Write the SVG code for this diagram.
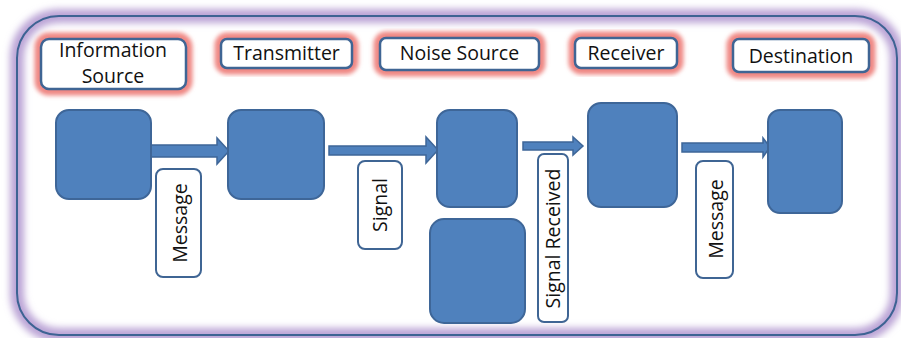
<svg xmlns="http://www.w3.org/2000/svg" width="901" height="338" viewBox="0 0 901 338">
  <defs>
    <filter id="soft" x="-20%" y="-30%" width="140%" height="160%">
      <feGaussianBlur stdDeviation="2.3"/>
    </filter>
    <filter id="softWide" x="-10%" y="-10%" width="120%" height="120%">
      <feGaussianBlur stdDeviation="3.5"/>
    </filter>
  </defs>
  <style>
    .title { fill: #ffffff; stroke: #3f6594; stroke-width: 2.5; }
    .titleGlow { fill: none; stroke: #ef8783; stroke-width: 13; }
    .node { fill: #4f81bd; stroke: #3e6698; stroke-width: 2; }
    .tag { fill: #ffffff; stroke: #3f6594; stroke-width: 2; }
    .arrow { fill: #4f81bd; stroke: #3e6698; stroke-width: 1.5; stroke-linejoin: miter; }
    text { font-family: "Open Sans", "Liberation Sans", sans-serif; font-size: 19.5px; fill: #111111; text-anchor: middle; }
  </style>

  <!-- white page with framed panel -->
  <rect x="0" y="0" width="901" height="338" fill="#ffffff"/>
  <rect x="17" y="16" width="880" height="319" rx="42" fill="none" stroke="#bba4d6" stroke-width="14" filter="url(#softWide)"/>
  <rect x="17" y="16" width="880" height="319" rx="42" fill="none" stroke="#3d6393" stroke-width="2"/>

  <!-- stage titles -->
  <g id="title-information-source">
    <rect class="titleGlow" x="41" y="39" width="145" height="50" rx="8" filter="url(#soft)"/>
    <rect class="title" x="41" y="39" width="145" height="50" rx="8"/>
    <text x="113" y="57">Information</text>
    <text x="113" y="83">Source</text>
  </g>
  <g id="title-transmitter">
    <rect class="titleGlow" x="221" y="39" width="131" height="29" rx="6" filter="url(#soft)"/>
    <rect class="title" x="221" y="39" width="131" height="29" rx="6"/>
    <text x="286.5" y="60">Transmitter</text>
  </g>
  <g id="title-noise-source">
    <rect class="titleGlow" x="380" y="38" width="159" height="32" rx="6" filter="url(#soft)"/>
    <rect class="title" x="380" y="38" width="159" height="32" rx="6"/>
    <text x="459.5" y="60">Noise Source</text>
  </g>
  <g id="title-receiver">
    <rect class="titleGlow" x="575" y="38" width="102" height="30" rx="6" filter="url(#soft)"/>
    <rect class="title" x="575" y="38" width="102" height="30" rx="6"/>
    <text x="626" y="60">Receiver</text>
  </g>
  <g id="title-destination">
    <rect class="titleGlow" x="733" y="39" width="136" height="33" rx="6" filter="url(#soft)"/>
    <rect class="title" x="733" y="39" width="136" height="33" rx="6"/>
    <text x="801" y="63">Destination</text>
  </g>

  <!-- connectors: block arrows between the stages -->
  <g id="connectors">
    <polygon class="arrow" points="142,145 217,145 217,138 229,151 217,164 217,157 142,157"/>
    <polygon class="arrow" points="329,146 426,146 426,137 438,150 426,163 426,155 329,155"/>
    <polygon class="arrow" points="523,142 573,142 573,137 583,146 573,155 573,150 523,150"/>
    <polygon class="arrow" points="682,143 763,143 763,138 770,147 763,157 763,152 682,152"/>
  </g>

  <!-- stage blocks -->
  <g id="node-information-source">
    <rect class="node" x="56" y="110" width="95" height="89" rx="13"/>
  </g>
  <g id="node-transmitter">
    <rect class="node" x="228" y="110" width="96" height="89" rx="13"/>
  </g>
  <g id="node-channel">
    <rect class="node" x="437" y="110" width="80" height="97" rx="13"/>
  </g>
  <g id="node-noise-source">
    <rect class="node" x="430" y="219" width="95" height="104" rx="14"/>
  </g>
  <g id="node-receiver">
    <rect class="node" x="588" y="103" width="89" height="104" rx="13"/>
  </g>
  <g id="node-destination">
    <rect class="node" x="768" y="110" width="74" height="103" rx="12"/>
  </g>

  <!-- vertical connector labels -->
  <g id="label-message-1">
    <rect class="tag" x="156" y="169" width="45" height="108" rx="7"/>
    <text transform="translate(187,223) rotate(-90)">Message</text>
  </g>
  <g id="label-signal">
    <rect class="tag" x="358" y="161" width="44" height="88" rx="7"/>
    <text transform="translate(387,205) rotate(-90)">Signal</text>
  </g>
  <g id="label-signal-received">
    <rect class="tag" x="538" y="154" width="30" height="168" rx="6"/>
    <text transform="translate(560,238.5) rotate(-90)">Signal Received</text>
  </g>
  <g id="label-message-2">
    <rect class="tag" x="696" y="161" width="37" height="117" rx="7"/>
    <text transform="translate(723,219) rotate(-90)">Message</text>
  </g>
</svg>
